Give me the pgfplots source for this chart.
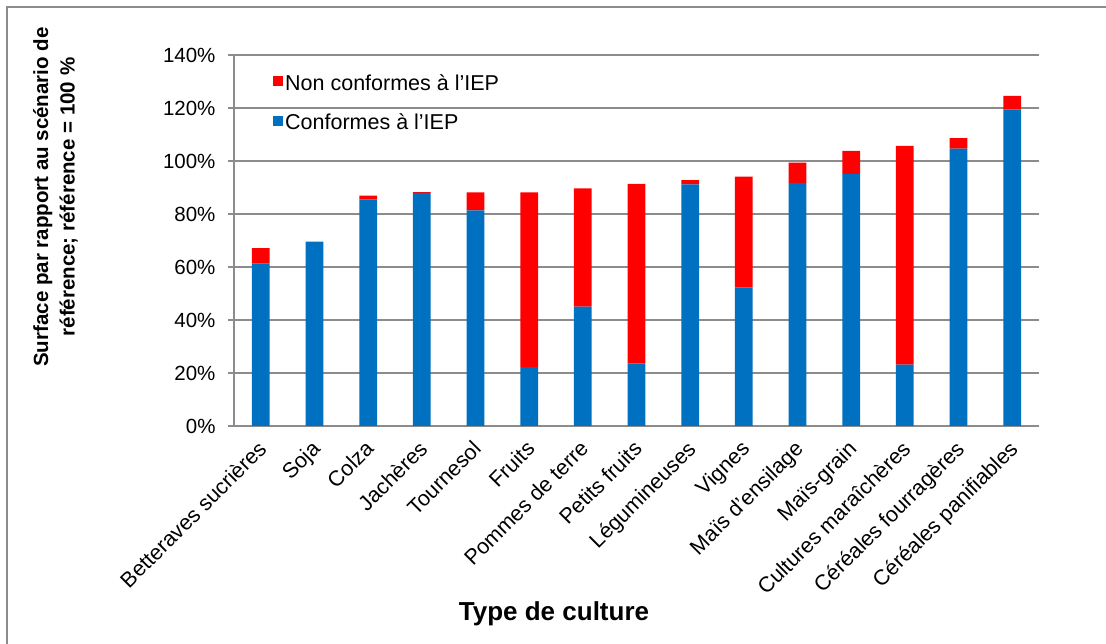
\documentclass[border=0pt]{standalone}
\usepackage{fontspec}
\setmainfont{Liberation Sans}
\usepackage{pgfplots}
\pgfplotsset{compat=1.18}
\definecolor{cblue}{HTML}{0070C0}
\definecolor{cred}{HTML}{FF0000}
\definecolor{cgrid}{HTML}{8C8C8C}
\begin{document}
\begin{tikzpicture}
\useasboundingbox (0,0) rectangle (1106bp,644bp);
\draw[cgrid, line width=1.2bp] (7bp,0) -- (7bp,637bp) -- (1106bp,637bp);
\begin{axis}[
  at={(234bp,218bp)}, anchor=south west,
  scale only axis, width=805bp, height=371bp,
  ybar stacked, bar width=17.7bp,
  xmin=-0.5, xmax=14.5, ymin=0, ymax=140,
  axis x line*=bottom, axis y line*=left,
  axis line style={cgrid, line width=1.2bp},
  ymajorgrids, grid style={cgrid, line width=1.2bp},
  ytick={0,20,...,140},
  yticklabel={\pgfmathprintnumber{\tick}\%},
  /pgf/number format/assume math mode=true,
  tick align=outside,
  ytick style={cgrid, line width=1.2bp},
  major tick length=6bp,
  xtick={0,...,14},
  x tick style={draw=none},
  minor xtick={-0.5,0.5,...,14.5},
  minor x tick style={cgrid, line width=1.2bp},
  minor tick length=6bp,
  xticklabels={Betteraves sucrières, Soja, Colza, Jachères, Tournesol, Fruits, Pommes de terre, Petits fruits, Légumineuses, Vignes, Maïs d’ensilage, Maïs-grain, Cultures maraîchères, Céréales fourragères, Céréales panifiables},
  x tick label style={rotate=45, anchor=north east, font=\fontsize{21.5bp}{24bp}\selectfont, inner sep=1bp, xshift=-7bp, yshift=-1bp},
  y tick label style={font=\fontsize{20.5bp}{24bp}\selectfont, xshift=-9bp},
  reverse legend,
  legend cell align=left,
  legend style={at={(0.0484,0.953)}, anchor=north west, draw=none, fill=none,
    font=\fontsize{21.5bp}{24bp}\selectfont, row sep=18bp, inner sep=0pt,
    nodes={inner sep=2bp}},
]
\addplot[fill=cblue, draw=none, legend image code/.code={\fill[cblue] (0bp,-3bp) rectangle (10bp,7bp);}] coordinates {
(0,61.3) (1,69.6) (2,85.5) (3,88.0) (4,81.4) (5,22.2) (6,45.0) (7,23.6)
(8,91.2) (9,52.3) (10,91.7) (11,95.1) (12,23.2) (13,104.7) (14,119.5)};
\addlegendentry{Conformes à l’IEP}
\addplot[fill=cred, draw=none, legend image code/.code={\fill[cred] (0bp,-3bp) rectangle (10bp,7bp);}] coordinates {
(0,5.8) (1,0) (2,1.4) (3,0.3) (4,6.8) (5,66.0) (6,44.7) (7,67.8)
(8,1.6) (9,41.8) (10,7.7) (11,8.7) (12,82.5) (13,3.9) (14,5.1)};
\addlegendentry{Non conformes à l’IEP}
\end{axis}
\node[rotate=90, align=center, font=\fontsize{20.5bp}{26.5bp}\selectfont\bfseries] at (55.5bp,447bp) {Surface par rapport au scénario de\\référence; référence = 100 \%};
\node[font=\fontsize{26bp}{30bp}\selectfont\bfseries] at (554bp,30bp) {Type de culture};
\end{tikzpicture}
\end{document}
